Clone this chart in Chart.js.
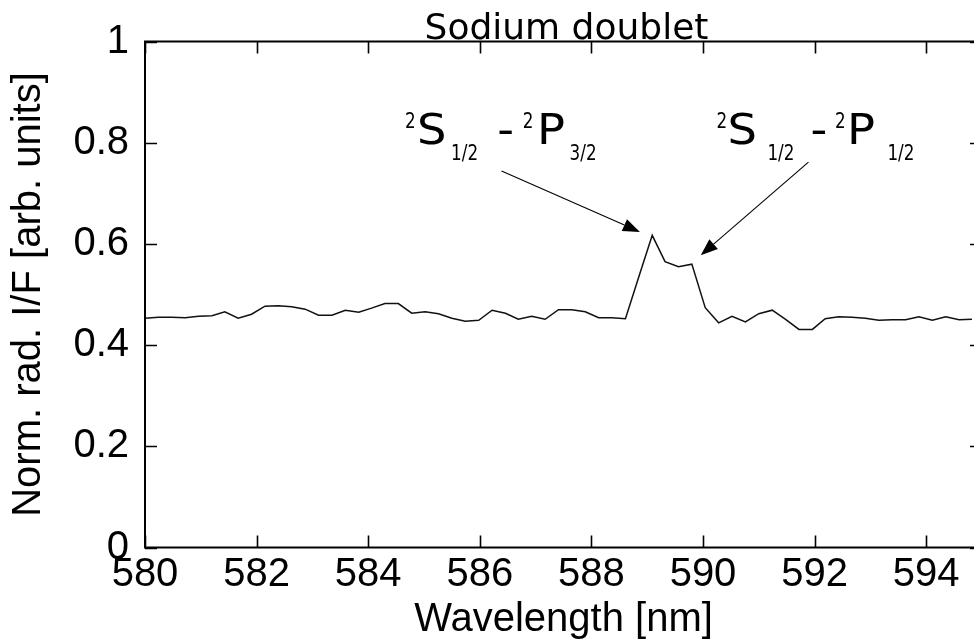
<!DOCTYPE html>
<html><head><meta charset="utf-8">
<script src="https://cdn.jsdelivr.net/npm/chart.js@4/dist/chart.umd.min.js"></script>
<style>
html,body{margin:0;padding:0;width:974px;height:642px;overflow:hidden;background:#fff;}
#wrap{width:974px;height:642px;overflow:hidden;position:relative;}
canvas{display:block;}
</style></head><body>
<div id="wrap"><canvas id="c" width="990" height="642" style="width:990px;height:642px"></canvas></div>
<script>
// ---- data ----
const wavelength = [580.00,580.24,580.48,580.72,580.96,581.20,581.43,581.67,581.91,582.15,
  582.39,582.63,582.87,583.11,583.35,583.59,583.83,584.06,584.30,584.54,
  584.78,585.02,585.26,585.50,585.74,585.98,586.22,586.46,586.69,586.93,
  587.17,587.41,587.65,587.89,588.13,588.37,588.61,588.85,589.09,589.32,
  589.56,589.80,590.04,590.28,590.52,590.76,591.00,591.24,591.48,591.72,
  591.96,592.19,592.43,592.67,592.91,593.15,593.39,593.63,593.87,594.11,
  594.35,594.59,594.82];
const radiance = [0.453,0.455,0.455,0.454,0.457,0.458,0.466,0.453,0.461,0.477,
  0.478,0.476,0.471,0.459,0.459,0.469,0.465,0.473,0.482,0.482,
  0.463,0.466,0.462,0.453,0.447,0.449,0.469,0.463,0.451,0.457,
  0.451,0.470,0.470,0.466,0.454,0.454,0.452,0.535,0.617,0.565,
  0.555,0.560,0.474,0.444,0.457,0.446,0.462,0.469,0.451,0.431,
  0.431,0.452,0.456,0.455,0.453,0.449,0.450,0.450,0.456,0.449,
  0.456,0.450,0.451];
const xTicks = [580,582,584,586,588,590,592,594];
const yTicks = [0,0.2,0.4,0.6,0.8,1];
const yTickLabels = ['0','0.2','0.4','0.6','0.8','1'];
const chartTitle = 'Sodium doublet';
const xTitle = 'Wavelength [nm]';
const yTitle = 'Norm. rad. I/F [arb. units]';
const line1Parts = [['2','sup'],['S','main'],['1/2','sub'],['-','main'],['2','sup'],['P','main'],['3/2','sub']];
const line2Parts = [['2','sup'],['S','main'],['1/2','sub'],['-','main'],['2','sup'],['P','main'],['1/2','sub']];

// ---- annotation placement (data coords for anchors, pixel offsets for glyph pieces) ----
const annotLayout = [
  {parts: line1Parts, x: 584.66, y: 0.798, offs: [0,12,46,92.3,117.8,132,164.5],
   from: [586.39,0.744], to: [588.87,0.6236]},
  {parts: line2Parts, x: 590.24, y: 0.798, offs: [0,11,51,94,118.5,130.7,171],
   from: [591.89,0.7617], to: [589.96,0.5776]}
];
const ANN_FONT = 'DejaVu Sans';
const MAIN_SIZE = 43, MAIN_SX = 1.08, SMALL_SIZE = 21, SMALL_SX = 0.8, SUP_DY = -16, SUB_DY = 16.3;

const frame = {
  id: 'frame',
  afterDatasetsDraw(chart) {
    const {ctx, chartArea: a, scales: {x, y}} = chart;
    ctx.save();
    ctx.strokeStyle = '#000';
    ctx.lineWidth = 2;
    ctx.strokeRect(a.left, a.top, a.right - a.left, a.bottom - a.top);
    ctx.lineWidth = 1.6;
    ctx.beginPath();
    x.ticks.forEach(t => {
      const p = Math.round(x.getPixelForValue(t.value)) + 0.5;
      ctx.moveTo(p, a.bottom); ctx.lineTo(p, a.bottom - 12);
      ctx.moveTo(p, a.top); ctx.lineTo(p, a.top + 12);
    });
    y.ticks.forEach(t => {
      const p = Math.round(y.getPixelForValue(t.value)) + 0.5;
      ctx.moveTo(a.left, p); ctx.lineTo(a.left + 12, p);
      ctx.moveTo(a.right, p); ctx.lineTo(a.right - 12, p);
    });
    ctx.stroke();

    // title
    ctx.fillStyle = '#000';
    ctx.font = '36px "DejaVu Sans"';
    ctx.textAlign = 'center';
    ctx.textBaseline = 'alphabetic';
    ctx.fillText(chartTitle, (a.left + a.right) / 2 + 3, 39);

    // annotations
    ctx.textAlign = 'left';
    annotLayout.forEach(an => {
      const ox = x.getPixelForValue(an.x), oy = y.getPixelForValue(an.y);
      an.parts.forEach((pt, i) => {
        const kind = pt[1];
        const main = kind === 'main';
        const size = main ? MAIN_SIZE : SMALL_SIZE;
        const sx = main ? MAIN_SX : SMALL_SX;
        const dy = kind === 'sup' ? SUP_DY : (kind === 'sub' ? SUB_DY : 0);
        ctx.save();
        ctx.font = size + 'px "' + ANN_FONT + '"';
        ctx.translate(ox + an.offs[i], oy + dy);
        ctx.scale(sx, 1);
        ctx.fillText(pt[0], 0, 0);
        ctx.restore();
      });
      const x0 = x.getPixelForValue(an.from[0]), y0 = y.getPixelForValue(an.from[1]);
      const x1 = x.getPixelForValue(an.to[0]), y1 = y.getPixelForValue(an.to[1]);
      const ang = Math.atan2(y1 - y0, x1 - x0);
      const L = 17, W = 6.5;
      const bx = x1 - L * Math.cos(ang), by = y1 - L * Math.sin(ang);
      ctx.lineWidth = 1.1;
      ctx.beginPath(); ctx.moveTo(x0, y0); ctx.lineTo(bx, by); ctx.stroke();
      ctx.beginPath();
      ctx.moveTo(x1, y1);
      ctx.lineTo(bx + W * Math.sin(ang), by - W * Math.cos(ang));
      ctx.lineTo(bx - W * Math.sin(ang), by + W * Math.cos(ang));
      ctx.closePath(); ctx.fill();
    });
    ctx.restore();
  }
};

new Chart(document.getElementById('c'), {
  type: 'line',
  data: {
    datasets: [{
      data: wavelength.map((w, i) => ({x: w, y: radiance[i]})),
      borderColor: '#111',
      borderWidth: 1.5,
      pointRadius: 0,
      tension: 0,
      fill: false
    }]
  },
  options: {
    responsive: false,
    animation: false,
    layout: {padding: {top: 41.5, right: 8, bottom: 0, left: 0}},
    plugins: {legend: {display: false}, tooltip: {enabled: false}, title: {display: false}},
    scales: {
      x: {
        type: 'linear', min: 580, max: 595,
        afterBuildTicks: s => { s.ticks = xTicks.map(v => ({value: v})); },
        afterFit: s => { s.height = 94.5; },
        grid: {display: false, drawTicks: false},
        border: {display: false},
        ticks: {font: {family: 'Liberation Sans', size: 40, lineHeight: 1.2}, color: '#000', padding: 3, maxRotation: 0, autoSkip: false},
        title: {display: true, text: xTitle, font: {family: 'Liberation Sans', size: 40, lineHeight: 1.2}, color: '#000', padding: {top: 0, bottom: -2}}
      },
      y: {
        type: 'linear', min: 0, max: 1,
        afterBuildTicks: s => { s.ticks = yTicks.map(v => ({value: v})); },
        afterFit: s => { s.width = 145; },
        grid: {display: false, drawTicks: false},
        border: {display: false},
        ticks: {font: {family: 'Liberation Sans', size: 40, lineHeight: 1.2}, color: '#000', padding: 16,
          callback: (v, i) => yTickLabels[yTicks.indexOf(v)] ?? ''},
        title: {display: true, text: yTitle, font: {family: 'Liberation Sans', size: 40, lineHeight: 1.2}, color: '#000', padding: {top: 5, bottom: 0}}
      }
    }
  },
  plugins: [frame]
});
</script>
</body></html>
